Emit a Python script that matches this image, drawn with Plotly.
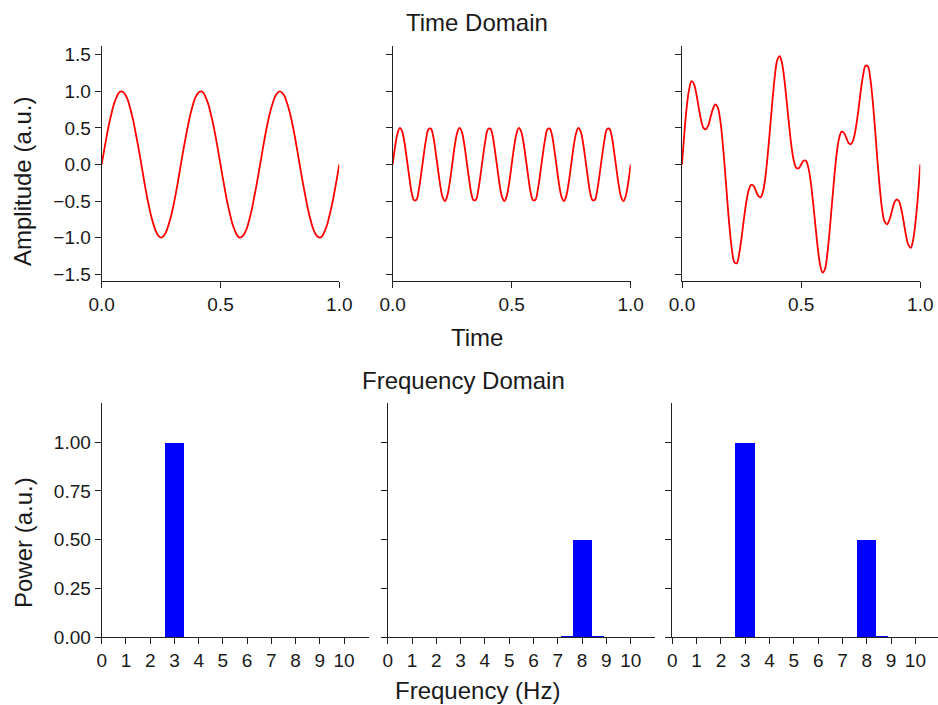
import plotly.graph_objects as go

# ---------------- data ----------------
time = [round(k * 0.01, 2) for k in range(101)]

signal_3hz = [0.00, 0.19, 0.37, 0.54, 0.68, 0.81, 0.90, 0.97, 1.00, 0.99, 0.95, 0.88, 0.77, 0.64, 0.48, 0.31, 0.13,
              -0.06, -0.25, -0.43, -0.59, -0.73, -0.84, -0.93, -0.98, -1.00, -0.98, -0.93, -0.84, -0.73, -0.59, -0.43,
              -0.25, -0.06, 0.13, 0.31, 0.48, 0.64, 0.77, 0.88, 0.95, 0.99, 1.00, 0.97, 0.90, 0.81, 0.68, 0.54, 0.37,
              0.19, 0.00, -0.19, -0.37, -0.54, -0.68, -0.81, -0.90, -0.97, -1.00, -0.99, -0.95, -0.88, -0.77, -0.64,
              -0.48, -0.31, -0.13, 0.06, 0.25, 0.43, 0.59, 0.73, 0.84, 0.93, 0.98, 1.00, 0.98, 0.93, 0.84, 0.73, 0.59,
              0.43, 0.25, 0.06, -0.13, -0.31, -0.48, -0.64, -0.77, -0.88, -0.95, -0.99, -1.00, -0.97, -0.90, -0.81,
              -0.68, -0.54, -0.37, -0.19, 0.00]

signal_8hz = [0.00, 0.24, 0.42, 0.50, 0.45, 0.29, 0.06, -0.18, -0.39, -0.49, -0.48, -0.34, -0.12, 0.12, 0.34, 0.48,
              0.49, 0.39, 0.18, -0.06, -0.29, -0.45, -0.50, -0.42, -0.24,
              0.00, 0.24, 0.42, 0.50, 0.45, 0.29, 0.06, -0.18, -0.39, -0.49, -0.48, -0.34, -0.12, 0.12, 0.34, 0.48,
              0.49, 0.39, 0.18, -0.06, -0.29, -0.45, -0.50, -0.42, -0.24,
              0.00, 0.24, 0.42, 0.50, 0.45, 0.29, 0.06, -0.18, -0.39, -0.49, -0.48, -0.34, -0.12, 0.12, 0.34, 0.48,
              0.49, 0.39, 0.18, -0.06, -0.29, -0.45, -0.50, -0.42, -0.24,
              0.00, 0.24, 0.42, 0.50, 0.45, 0.29, 0.06, -0.18, -0.39, -0.49, -0.48, -0.34, -0.12, 0.12, 0.34, 0.48,
              0.49, 0.39, 0.18, -0.06, -0.29, -0.45, -0.50, -0.42, -0.24, 0.00]

signal_mix = [0.00, 0.43, 0.79, 1.03, 1.14, 1.10, 0.97, 0.78, 0.61, 0.50, 0.48, 0.53, 0.65, 0.76, 0.82, 0.78, 0.62,
              0.32, -0.06, -0.49, -0.88, -1.18, -1.34, -1.35, -1.22, -1.00, -0.74, -0.51, -0.35, -0.28, -0.29, -0.36,
              -0.43, -0.45, -0.37, -0.17, 0.14, 0.51, 0.89, 1.22, 1.43, 1.48, 1.38, 1.15, 0.84, 0.52, 0.23, 0.04,
              -0.05, -0.05, 0.00, 0.05, 0.05, -0.04, -0.23, -0.52, -0.84, -1.15, -1.38, -1.48, -1.43, -1.22, -0.89,
              -0.51, -0.14, 0.17, 0.37, 0.45, 0.43, 0.36, 0.29, 0.28, 0.35, 0.51, 0.74, 1.00, 1.22, 1.35, 1.34, 1.18,
              0.88, 0.49, 0.06, -0.32, -0.62, -0.78, -0.82, -0.76, -0.65, -0.53, -0.48, -0.50, -0.61, -0.78, -0.97,
              -1.10, -1.14, -1.03, -0.79, -0.43, 0.00]

freqs = [0, 0.5, 1, 1.5, 2, 2.5, 3, 3.5, 4, 4.5, 5, 5.5, 6, 6.5, 7, 7.5, 8, 8.5, 9, 9.5, 10, 10.5]
power_3hz = [0, 0, 0, 0, 0, 0, 0.995, 0, 0, 0, 0, 0, 0, 0, 0, 0, 0, 0, 0, 0, 0, 0]
power_8hz = [0, 0, 0, 0, 0, 0, 0, 0, 0, 0, 0, 0, 0, 0, 0, 0.006, 0.497, 0.006, 0, 0, 0, 0]
power_mix = [0, 0, 0, 0, 0, 0, 0.995, 0, 0, 0, 0, 0, 0, 0, 0, 0, 0.497, 0.006, 0, 0, 0, 0]

time_ticks = [0, 0.5, 1.0]
amp_ticks = [-1.5, -1.0, -0.5, 0.0, 0.5, 1.0, 1.5]
freq_ticks = [0, 1, 2, 3, 4, 5, 6, 7, 8, 9, 10]
power_ticks = [0, 0.25, 0.5, 0.75, 1.0]

# ---------------- figure ----------------
W, H = 938, 705
FONT = "Liberation Sans, Arial, sans-serif"
TXT = "#1a1a1a"
AX = "#222222"

fig = go.Figure()

line_sets = [signal_3hz, signal_8hz, signal_mix]
for i, ys in enumerate(line_sets):
    n = "" if i == 0 else str(i + 1)
    fig.add_trace(go.Scatter(x=time, y=ys, mode="lines", line=dict(color="#ff0000", width=1.8, shape="spline"),
                             xaxis="x" + n, yaxis="y" + n, showlegend=False))

bar_sets = [power_3hz, power_8hz, power_mix]
for i, ps in enumerate(bar_sets):
    n = str(i + 4)
    fig.add_trace(go.Bar(x=freqs, y=ps, width=0.8, marker=dict(color="#0000ff", line=dict(width=0)),
                         xaxis="x" + n, yaxis="y" + n, showlegend=False))

def fx(p):
    return p / W

def fy(p):
    return 1 - p / H

def px_x(a, b):
    return [fx(a), min(fx(b), 1.0)]

def px_y(top, bottom):
    return [fy(bottom), fy(top)]

top_x = [px_x(101.7, 339.3), px_x(392.7, 630.7), px_x(682.0, 920.3)]
bot_x = [px_x(101.7, 369.3), px_x(387.7, 655.0), px_x(672.3, 938.0)]
bot_xrange = [[0, 11.04], [0, 11.0], [0, 10.93]]
top_y = px_y(46, 280.7)
bot_y = px_y(403, 637.3)

common = dict(showline=True, linecolor=AX, linewidth=1.2, ticks="outside", ticklen=6, tickwidth=1.2,
              tickcolor=AX, showgrid=False, zeroline=False, mirror=False, automargin=False,
              tickfont=dict(family=FONT, size=19, color=TXT))

layout = {}
for i in range(3):
    n = "" if i == 0 else str(i + 1)
    layout["xaxis" + n] = dict(common, domain=top_x[i], range=[0, 1], tickvals=time_ticks,
                               tickformat=".1f", anchor="y" + n)
    layout["yaxis" + n] = dict(common, domain=top_y, range=[-1.59, 1.62], tickvals=amp_ticks,
                               tickformat=".1f", anchor="x" + n, showticklabels=(i == 0))
for i in range(3):
    n = str(i + 4)
    layout["xaxis" + n] = dict(common, domain=bot_x[i], range=bot_xrange[i], tickvals=freq_ticks,
                               anchor="y" + n)
    layout["yaxis" + n] = dict(common, domain=bot_y, range=[0, 1.2], tickvals=power_ticks,
                               tickformat=".2f", anchor="x" + n, showticklabels=(i == 0))

anns = [
    dict(text="Time Domain", x=476.7, y=22, size=24, angle=0),
    dict(text="Time", x=477, y=337, size=24, angle=0),
    dict(text="Frequency Domain", x=463, y=380, size=24, angle=0),
    dict(text="Frequency (Hz)", x=478, y=690, size=24, angle=0),
    dict(text="Amplitude (a.u.)", x=23, y=182, size=24, angle=-90),
    dict(text="Power (a.u.)", x=23, y=543, size=24, angle=-90),
]
layout["annotations"] = [
    dict(text=a["text"], x=fx(a["x"]), y=fy(a["y"]), xref="paper", yref="paper", xanchor="center",
         yanchor="middle", showarrow=False, textangle=a["angle"],
         font=dict(family=FONT, size=a["size"], color=TXT))
    for a in anns
]

fig.update_layout(width=W, height=H, margin=dict(l=0, r=0, t=0, b=0), paper_bgcolor="white",
                  plot_bgcolor="white", barmode="overlay", bargap=0, **layout)

fig.write_html("out.html", config={"displayModeBar": False},
               post_script="document.body.style.margin='0';document.body.style.overflow='hidden';")
